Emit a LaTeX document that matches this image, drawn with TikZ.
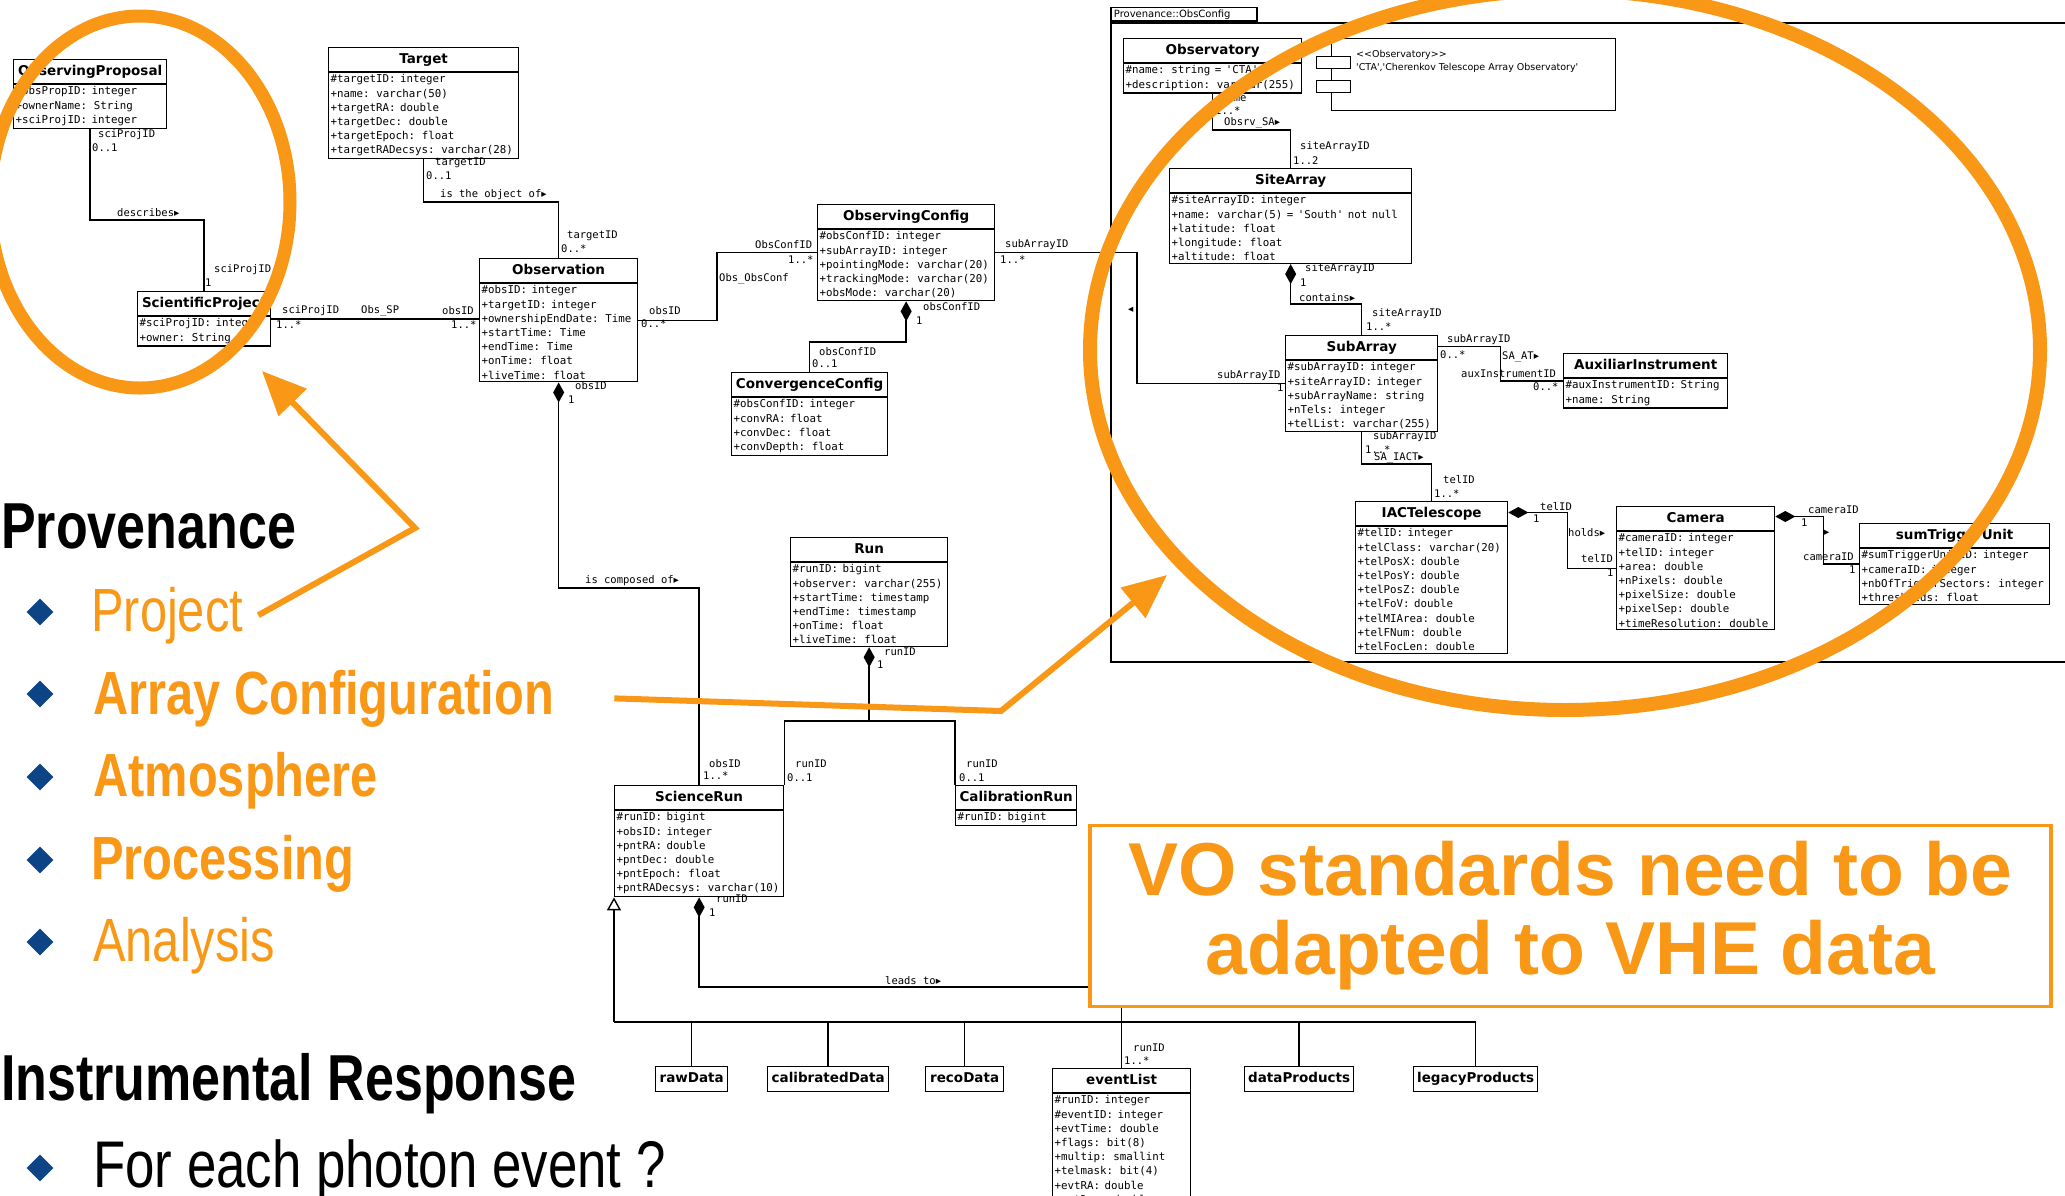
\documentclass[tikz,border=0pt]{standalone}
\usepackage{fontspec}
\setmainfont{Liberation Sans}
\setsansfont{DejaVu Sans}
\setmonofont{DejaVu Sans Mono}
\newfontfamily\slidefont[FakeStretch=0.8]{Liberation Sans}
\newfontfamily\umlsym{DejaVu Sans}
\usetikzlibrary{arrows.meta,shapes.geometric,shapes.multipart}

\definecolor{slideorange}{RGB}{249,151,22}
\definecolor{bulletblue}{RGB}{12,68,133}

\newcommand\umltitle{\fontsize{13.5}{14.2}\selectfont\sffamily\bfseries}
\newcommand\umlhead[1]{\rule[-6pt]{0pt}{19pt}#1}
\newcommand\umlattr{\raggedright\fontsize{10.8}{14.2}\selectfont\ttfamily\mdseries}
\newcommand\umllabel{\fontsize{10.5}{12}\selectfont\ttfamily}
\newcommand\rarr{{\umlsym\symbol{"25B8}}}
\newcommand\larr{{\umlsym\symbol{"25C2}}}

\begin{document}
\begin{tikzpicture}[x=1pt,y=-1pt,
  umlclass/.style={rectangle split, rectangle split parts=2, draw, line width=1.3pt, fill=white,
    anchor=north west, inner xsep=2pt, inner ysep=2pt, font=\umltitle, align=left,
    execute at begin node=\centering},
  umlleaf/.style={draw, line width=1.3pt, fill=white, anchor=north west, inner xsep=2pt,
    inner ysep=3pt, font=\umltitle},
  umlport/.style={draw, line width=1.3pt, fill=white, minimum width=34pt, minimum height=12pt,
    inner sep=0pt, anchor=north west},
  lbl/.style={font=\umllabel, inner sep=0pt, anchor=west},
  assoc/.style={line width=1.4pt},
  compose/.style={assoc, {Diamond[length=20pt,width=11pt]}-},
  inherit/.style={assoc, -{Triangle[open,length=13pt,width=14pt,fill=white]}},
  bulletmark/.style={diamond, fill=bulletblue, inner sep=0pt, minimum width=27pt, minimum height=27pt},
  pointer/.style={line width=6pt, draw=slideorange, -{Triangle[length=44pt,width=38pt]}},
  ring/.style={draw=slideorange},
  slidehead/.style={anchor=base west, inner sep=0pt, font=\slidefont\fontsize{65}{70}\selectfont\bfseries},
  slideitem/.style={anchor=base west, inner sep=0pt, text=slideorange, font=\slidefont\fontsize{61}{66}\selectfont},
]
\useasboundingbox (0,0) rectangle (2065,1195);
\clip (0,0) rectangle (2065,1195);

% package frame
\node[draw, line width=1.8pt, anchor=north west, minimum width=1000pt, minimum height=639pt, inner sep=0pt] (frame) at (1110,22) {};
\node[draw, line width=1.8pt, anchor=south west, text width=140pt, inner xsep=3pt, inner ysep=2pt, font=\fontsize{10}{12}\selectfont\sffamily] (frametab) at (frame.north west) {Provenance::ObsConfig};

% classes
\node[umlclass, text width=149pt] (op) at (13,59) {\umlhead{ObservingProposal}\nodepart{two}\umlattr \#obsPropID: integer\\+ownerName: String\\+sciProjID: integer};
\node[umlclass, text width=186pt] (tgt) at (328,47) {\umlhead{Target}\nodepart{two}\umlattr \#targetID: integer\\+name: varchar(50)\\+targetRA: double\\+targetDec: double\\+targetEpoch: float\\+targetRADecsys: varchar(28)};
\node[umlclass, text width=129pt] (sp) at (137,291) {\umlhead{ScientificProject}\nodepart{two}\umlattr \#sciProjID: integer\\+owner: String};
\node[umlclass, text width=154pt] (obs) at (479,258) {\umlhead{Observation}\nodepart{two}\umlattr \#obsID: integer\\+targetID: integer\\+ownershipEndDate: Time\\+startTime: Time\\+endTime: Time\\+onTime: float\\+liveTime: float};
\node[umlclass, text width=173pt] (oc) at (817,204) {\umlhead{ObservingConfig}\nodepart{two}\umlattr \#obsConfID: integer\\+subArrayID: integer\\+pointingMode: varchar(20)\\+trackingMode: varchar(20)\\+obsMode: varchar(20)};
\node[umlclass, text width=152pt] (cc) at (731,372) {\umlhead{ConvergenceConfig}\nodepart{two}\umlattr \#obsConfID: integer\\+convRA: float\\+convDec: float\\+convDepth: float};
\node[umlclass, text width=153pt] (run) at (790,537) {\umlhead{Run}\nodepart{two}\umlattr \#runID: bigint\\+observer: varchar(255)\\+startTime: timestamp\\+endTime: timestamp\\+onTime: float\\+liveTime: float};
\node[umlclass, text width=165pt] (scr) at (614,785) {\umlhead{ScienceRun}\nodepart{two}\umlattr \#runID: bigint\\+obsID: integer\\+pntRA: double\\+pntDec: double\\+pntEpoch: float\\+pntRADecsys: varchar(10)};
\node[umlclass, text width=117pt] (cal) at (955,785) {\umlhead{CalibrationRun}\nodepart{two}\umlattr \#runID: bigint};
\node[umlclass, text width=174pt] (obsy) at (1123,38) {\umlhead{Observatory}\nodepart{two}\umlattr \#name: string = 'CTA'\\+description: varchar(255)};
\node[umlclass, text width=238pt] (sa) at (1169,168) {\umlhead{SiteArray}\nodepart{two}\umlattr \#siteArrayID: integer\\+name: varchar(5) = 'South' not null\\+latitude: float\\+longitude: float\\+altitude: float};
\node[umlclass, text width=148pt] (sub) at (1285,335) {\umlhead{SubArray}\nodepart{two}\umlattr \#subArrayID: integer\\+siteArrayID: integer\\+subArrayName: string\\+nTels: integer\\+telList: varchar(255)};
\node[umlclass, text width=160pt] (aux) at (1563,353) {\umlhead{AuxiliarInstrument}\nodepart{two}\umlattr \#auxInstrumentID: String\\+name: String};
\node[umlclass, text width=148pt] (iact) at (1355,501) {\umlhead{IACTelescope}\nodepart{two}\umlattr \#telID: integer\\+telClass: varchar(20)\\+telPosX: double\\+telPosY: double\\+telPosZ: double\\+telFoV: double\\+telMIArea: double\\+telFNum: double\\+telFocLen: double};
\node[umlclass, text width=154pt] (cam) at (1616,506) {\umlhead{Camera}\nodepart{two}\umlattr \#cameraID: integer\\+telID: integer\\+area: double\\+nPixels: double\\+pixelSize: double\\+pixelSep: double\\+timeResolution: double};
\node[umlclass, text width=186pt] (stu) at (1859,523) {\umlhead{sumTriggerUnit}\nodepart{two}\umlattr \#sumTriggerUnitID: integer\\+cameraID: integer\\+nbOfTriggerSectors: integer\\+thresholds: float};
\node[umlclass, text width=134pt] (evl) at (1052,1068) {\umlhead{eventList}\nodepart{two}\umlattr \#runID: integer\\\#eventID: integer\\+evtTime: double\\+flags: bit(8)\\+multip: smallint\\+telmask: bit(4)\\+evtRA: double\\+evtDec: double};
\node[umlleaf, minimum width=72pt] (raw) at (655,1066) {\umlhead{rawData}};
\node[umlleaf, minimum width=121pt] (calib) at (767,1066) {\umlhead{calibratedData}};
\node[umlleaf, minimum width=78pt] (reco) at (925,1066) {\umlhead{recoData}};
\node[umlleaf, minimum width=109pt] (dprod) at (1244,1066) {\umlhead{dataProducts}};
\node[umlleaf, minimum width=124pt] (legacy) at (1413,1066) {\umlhead{legacyProducts}};

% component
\node[draw, line width=1.3pt, anchor=north west, minimum width=284pt, minimum height=72pt, inner sep=0pt] (ctaobs) at (1331,38) {};
\node[anchor=north west, inner sep=0pt, align=left, font=\fontsize{9.5}{13}\selectfont\sffamily] (ctatext) at (1356,50) {\textless\kern0pt\textless\kern0pt Observatory\kern0pt\textgreater\kern0pt\textgreater\\\textquotesingle CTA\textquotesingle,\textquotesingle Cherenkov Telescope Array Observatory\textquotesingle};
\node[umlport] (ctaport1) at (1316,56) {};
\node[umlport] (ctaport2) at (1316,80) {};

% associations
\draw[assoc] (op.south) -- (op.south |- 0,220) -| (sp.north);
\draw[assoc] (tgt.south) -- (tgt.south |- 0,202) -| (obs.north);
\draw[assoc] (sp.east) -- (sp.east -| obs.west);
\draw[assoc] (obs.east) -- (obs.east -| 717,0) |- (oc.west);
\draw[compose] (oc.south) -- (oc.south |- 0,342) -| (cc.north);
\draw[assoc] (oc.east) -- (oc.east -| 1137,0) |- (sub.west);
\draw[assoc] (obsy.south) -- (obsy.south |- 0,130) -| (sa.north);
\draw[compose] (sa.south) -- (sa.south |- 0,304) -| (sub.north);
\draw[assoc] ([yshift=-11.5pt]sub.north east) -- ++(62,0) |- (aux.west);
\draw[assoc] (sub.south) -- (sub.south |- 0,464) -| (iact.north);
\draw[compose] ([yshift=-11.5pt]iact.north east) -- ++(59,0) |- (cam.west);
\draw[compose] ([yshift=-10.5pt]cam.north east) -- ++(48,0) |- (stu.west);
\draw[compose] (obs.south) -- (obs.south |- 0,588) -| (scr.north);
\draw[compose] (run.south) -- (run.south |- 0,721) -| (scr.north east);
\draw[assoc] (run.south |- 0,721) -| (cal.north west);
\draw[compose] (scr.south) -- (scr.south |- 0,987) -| (evl.north);
\coordinate (genbus) at (614,1022);
\draw[inherit] (genbus) -- (scr.south west);
\draw[assoc] (genbus) -| (legacy.north);
\foreach \leaf in {raw,calib,reco,evl,dprod}
  \draw[assoc] (genbus -| \leaf.north) -- (\leaf.north);

% association labels
\node[lbl] (dsc1) at (98,135) {sciProjID};
\node[lbl] (dsc2) at (92,148) {0..1};
\node[lbl] (dsc3) at (117,213) {describes\rarr};
\node[lbl] (dsc4) at (214,270) {sciProjID};
\node[lbl] (dsc5) at (205,283) {1};
\node[lbl] (obj1) at (435,163) {targetID};
\node[lbl] (obj2) at (426,176) {0..1};
\node[lbl] (obj3) at (440,195) {is the object of\rarr};
\node[lbl] (obj4) at (567,236) {targetID};
\node[lbl] (obj5) at (561,249) {0..*};
\node[lbl] (osp1) at (282,311) {sciProjID};
\node[lbl] (osp2) at (276,325) {1..*};
\node[lbl] (osp3) at (361,311) {Obs\_SP};
\node[lbl] (osp4) at (442,311) {obsID};
\node[lbl] (osp5) at (451,325) {1..*};
\node[lbl] (ooc1) at (649,311) {obsID};
\node[lbl] (ooc2) at (641,324) {0..*};
\node[lbl] (ooc3) at (755,245) {ObsConfID};
\node[lbl] (ooc4) at (788,260) {1..*};
\node[lbl] (ooc5) at (719,279) {Obs\_ObsConf};
\node[lbl] (occ1) at (923,307) {obsConfID};
\node[lbl] (occ2) at (916,321) {1};
\node[lbl] (occ3) at (819,352) {obsConfID};
\node[lbl] (occ4) at (812,364) {0..1};
\node[lbl] (ocs1) at (1005,245) {subArrayID};
\node[lbl] (ocs2) at (1000,260) {1..*};
\node[lbl] (ocs3) at (1128,310) {\larr};
\node[lbl] (ocs4) at (1217,376) {subArrayID};
\node[lbl] (ocs5) at (1277,388) {1};
\node[lbl] (osa1) at (1221,99) {name};
\node[lbl] (osa2) at (1215,111) {1..*};
\node[lbl] (osa3) at (1224,123) {Obsrv\_SA\rarr};
\node[lbl] (osa4) at (1300,147) {siteArrayID};
\node[lbl] (osa5) at (1293,161) {1..2};
\node[lbl] (con1) at (1305,269) {siteArrayID};
\node[lbl] (con2) at (1300,283) {1};
\node[lbl] (con3) at (1299,298) {contains\rarr};
\node[lbl] (con4) at (1372,314) {siteArrayID};
\node[lbl] (con5) at (1366,327) {1..*};
\node[lbl] (sat1) at (1447,340) {subArrayID};
\node[lbl] (sat2) at (1440,355) {0..*};
\node[lbl] (sat3) at (1502,357) {SA\_AT\rarr};
\node[lbl] (sat4) at (1461,374) {auxInstrumentID};
\node[lbl] (sat5) at (1533,387) {0..*};
\node[lbl] (sai1) at (1373,437) {subArrayID};
\node[lbl] (sai2) at (1365,450) {1..*};
\node[lbl] (sai3) at (1374,458) {SA\_IACT\rarr};
\node[lbl] (sai4) at (1443,480) {telID};
\node[lbl] (sai5) at (1434,494) {1..*};
\node[lbl] (hld1) at (1540,507) {telID};
\node[lbl] (hld2) at (1533,519) {1};
\node[lbl] (hld3) at (1568,533) {holds\rarr};
\node[lbl] (hld4) at (1581,559) {telID};
\node[lbl] (hld5) at (1607,573) {1};
\node[lbl] (cst1) at (1808,510) {cameraID};
\node[lbl] (cst2) at (1801,523) {1};
\node[lbl] (cst3) at (1824,533) {\rarr};
\node[lbl] (cst4) at (1803,557) {cameraID};
\node[lbl] (cst5) at (1849,570) {1};
\node[lbl] (cmp1) at (575,386) {obsID};
\node[lbl] (cmp2) at (568,400) {1};
\node[lbl] (cmp3) at (585,581) {is composed of\rarr};
\node[lbl] (cmp4) at (709,764) {obsID};
\node[lbl] (cmp5) at (703,776) {1..*};
\node[lbl] (rn1) at (884,652) {runID};
\node[lbl] (rn2) at (877,665) {1};
\node[lbl] (rn3) at (795,764) {runID};
\node[lbl] (rn4) at (787,778) {0..1};
\node[lbl] (rn5) at (966,764) {runID};
\node[lbl] (rn6) at (959,778) {0..1};
\node[lbl] (lds1) at (716,899) {runID};
\node[lbl] (lds2) at (709,913) {1};
\node[lbl] (lds3) at (885,981) {leads to\rarr};
\node[lbl] (lds4) at (1133,1048) {runID};
\node[lbl] (lds5) at (1124,1061) {1..*};

% slide overlay
\node[draw=slideorange, line width=3.5pt, fill=white, minimum width=961pt, minimum height=181pt, inner sep=0pt,
  align=center, text=slideorange, font=\fontsize{75}{79}\selectfont\bfseries] (vo) at (1570.5,916) {VO standards need to be\\adapted to VHE data};
\draw[ring, line width=13pt] (140,202) ellipse [x radius=150pt, y radius=186pt];
\draw[ring, line width=14pt] (1565,350) ellipse [x radius=475pt, y radius=360pt];

\node[slidehead] (provhead) at (1,548) {Provenance};
\node[slideitem] (project) at (91,631) {Project};
\node[slideitem] (arraycfg) at (93,714) {\bfseries Array Configuration};
\node[slideitem] (atmos) at (93,796) {\bfseries Atmosphere};
\node[slideitem] (proc) at (91,879) {\bfseries Processing};
\node[slideitem] (anal) at (93,961) {Analysis};
\node[slidehead] (irfhead) at (1,1100) {Instrumental Response};
\node[anchor=base west, inner sep=0pt, font=\slidefont\fontsize{66}{70}\selectfont] (photon) at (93,1187) {For each photon event ?};
\node[bulletmark] (bul1) at (40,612) {};
\node[bulletmark] (bul2) at (40,694) {};
\node[bulletmark] (bul3) at (40,777) {};
\node[bulletmark] (bul4) at (40,860) {};
\node[bulletmark] (bul5) at (40,942) {};
\node[bulletmark] (bul6) at (40,1168) {};

\coordinate (bend1) at (415,528);
\coordinate (tip1) at (262,371);
\draw[pointer] ([xshift=15pt]project.east) -- (bend1) -- (tip1);
\coordinate (bend2) at (1001,711);
\coordinate (tip2) at (1167,575);
\draw[pointer] ([xshift=60pt]arraycfg.east) -- (bend2) -- (tip2);
\end{tikzpicture}
\end{document}
